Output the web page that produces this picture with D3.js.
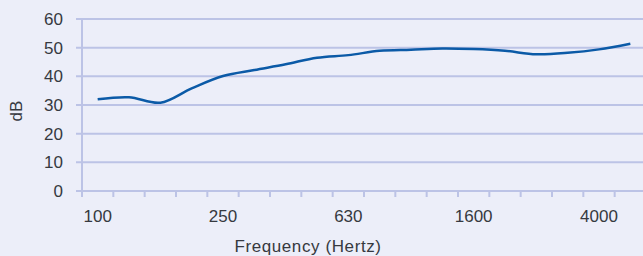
<!DOCTYPE html>
<html>
<head>
<meta charset="utf-8">
<script src="https://cdn.jsdelivr.net/npm/d3@7"></script>
<style>
  html, body { margin: 0; padding: 0; background: #eceef9; }
  svg { display: block; font-family: "Liberation Sans", Arial, sans-serif; }
</style>
</head>
<body>
<div id="chart"></div>
<script>
'use strict'

// 1/3-octave bands
let bands = ["100", "125", "160", "200", "250", "315", "400", "500", "630",
             "800", "1000", "1250", "1600", "2000", "2500", "3150", "4000", "5000"]
let levels = [32.0, 32.7, 30.8, 35.8, 40.1, 42.2, 44.2, 46.5, 47.4,
              48.9, 49.3, 49.7, 49.5, 48.9, 47.7, 48.2, 49.4, 51.4]
let shownLabels = ["100", "250", "630", "1600", "4000"]
let yTicks = [0, 10, 20, 30, 40, 50, 60]

let width = 643
let height = 256
let margin = { top: 19, right: -3, bottom: 65, left: 82 }

let gridColor = "#bcc3e6"
let textColor = "#363940"

let svg = d3.select("#chart").append("svg")
  .attr("width", width)
  .attr("height", height)

let x = d3.scaleBand()
  .domain(bands)
  .range([margin.left, width - margin.right])

let y = d3.scaleLinear()
  .domain([0, 60])
  .range([height - margin.bottom, margin.top])

// horizontal gridlines
svg.append("g")
  .selectAll("line")
  .data(yTicks)
  .enter()
  .append("line")
  .attr("x1", margin.left - 6)
  .attr("x2", width)
  .attr("y1", d => y(d))
  .attr("y2", d => y(d))
  .style("stroke", gridColor)
  .style("stroke-width", 2)

// y axis line
svg.append("line")
  .attr("x1", margin.left)
  .attr("x2", margin.left)
  .attr("y1", y(60))
  .attr("y2", y(0) + 6)
  .style("stroke", gridColor)
  .style("stroke-width", 2)

// x ticks at band edges
svg.append("g")
  .selectAll("line")
  .data(bands.slice(1))
  .enter()
  .append("line")
  .attr("x1", d => x(d))
  .attr("x2", d => x(d))
  .attr("y1", y(0))
  .attr("y2", y(0) + 6)
  .style("stroke", gridColor)
  .style("stroke-width", 2)

// y tick labels
svg.append("g")
  .selectAll("text")
  .data(yTicks)
  .enter()
  .append("text")
  .attr("x", 63)
  .attr("y", d => y(d))
  .attr("dy", "0.36em")
  .attr("text-anchor", "end")
  .style("font-size", "17px")
  .style("fill", textColor)
  .text(d => d)

// x tick labels
svg.append("g")
  .selectAll("text")
  .data(shownLabels)
  .enter()
  .append("text")
  .attr("x", d => x(d) + x.bandwidth() / 2)
  .attr("y", 222)
  .attr("text-anchor", "middle")
  .style("font-size", "17px")
  .style("fill", textColor)
  .text(d => d)

// axis titles
svg.append("text")
  .attr("x", 308)
  .attr("y", 252)
  .attr("text-anchor", "middle")
  .style("font-size", "17px")
  .style("letter-spacing", "0.6px")
  .style("fill", textColor)
  .text("Frequency (Hertz)")

svg.append("text")
  .attr("transform", "translate(22," + 111 + ")rotate(-90)")
  .attr("text-anchor", "middle")
  .style("font-size", "17px")
  .style("fill", textColor)
  .text("dB")

// the curve (smoothed like a spreadsheet line)
let line = d3.line()
  .x((d, i) => x(bands[i]) + x.bandwidth() / 2)
  .y(d => y(d))
  .curve(d3.curveCatmullRom.alpha(0.5))

svg.append("path")
  .datum(levels)
  .attr("d", line)
  .style("fill", "none")
  .style("stroke", "#0b5aa7")
  .style("stroke-width", 2.5)
</script>
</body>
</html>
